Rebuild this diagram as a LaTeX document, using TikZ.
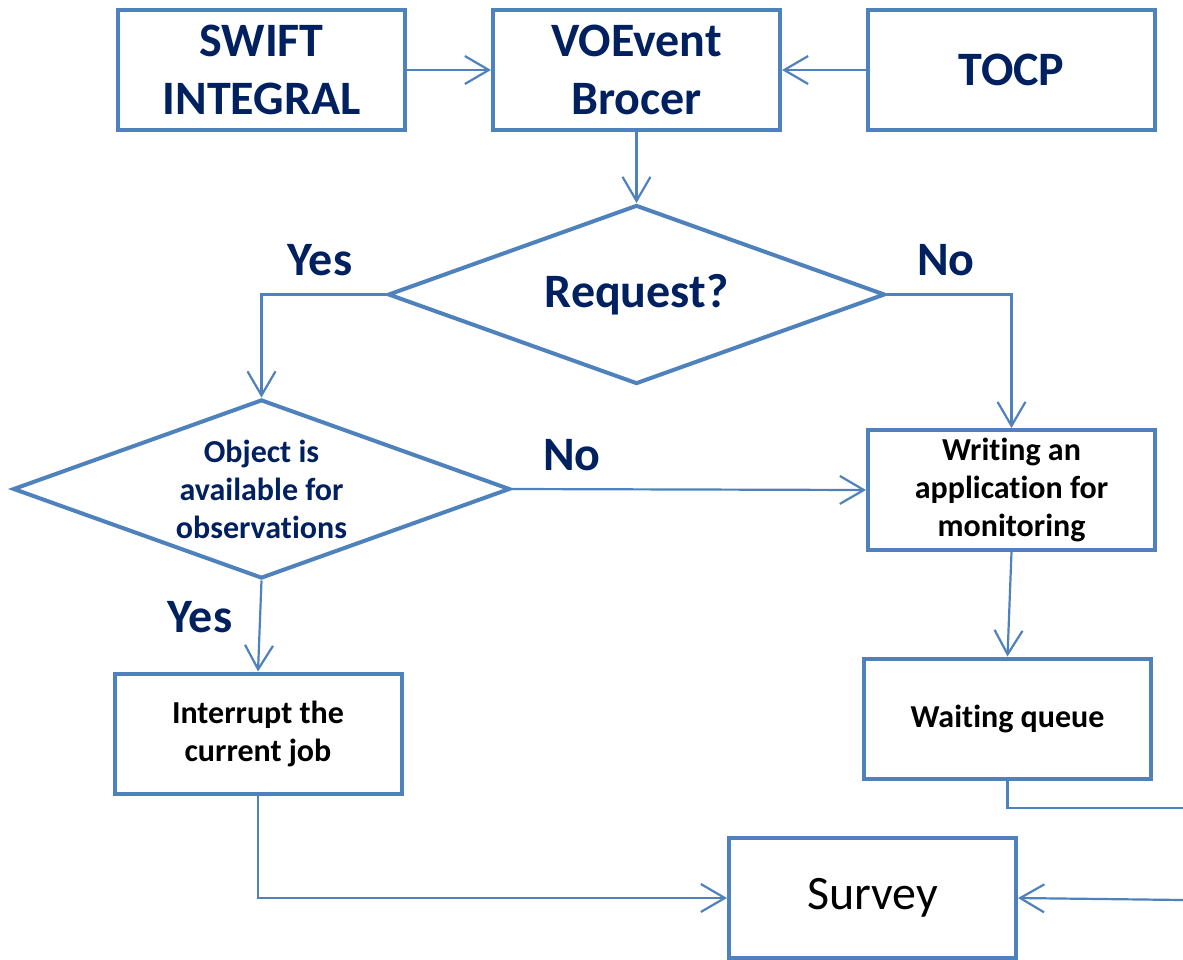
\documentclass[tikz,border=0pt]{standalone}
\usepackage{fontspec}
\setmainfont{Carlito}[Ligatures={NoCommon}]
\usetikzlibrary{shapes.geometric,arrows.meta}
\definecolor{boxblue}{HTML}{4F81BD}
\definecolor{navy}{HTML}{002060}
\tikzset{
  box/.style={draw=boxblue, line width=2pt, rectangle, minimum width=143.5pt, minimum height=60pt, align=center, inner sep=2pt},
  bigtxt/.style={font=\fontsize{24}{29}\selectfont\bfseries, text=navy},
  smalltxt/.style={font=\fontsize{16}{19}\selectfont\bfseries},
  dia/.style={draw=boxblue, line width=2pt, diamond, aspect=2.78, minimum width=248.5pt, minimum height=89.5pt, inner sep=0pt, align=center},
  conn/.style={draw=boxblue, line width=1.1pt, -{Straight Barb[length=12pt,width=14pt]}},
  plain/.style={draw=boxblue, line width=1.1pt},
  lbl/.style={font=\fontsize{24}{29}\selectfont\bfseries, text=navy}
}
\begin{document}
\begin{tikzpicture}[x=0.5pt,y=-0.5pt]
\useasboundingbox (0,0) rectangle (1183,959);
\node[box,bigtxt] (swift) at (261.5,70) {SWIFT\\INTEGRAL};
\node[box,bigtxt] (voe) at (636.5,70) {VOEvent\\Brocer};
\node[box,bigtxt] (tocp) at (1011.5,70) {TOCP};
\node[dia,bigtxt] (req) at (636.5,294.5) {Request?};
\node[dia,smalltxt,text=navy] (obj) at (261.5,489) {Object is\\available for\\observations};
\node[box,smalltxt] (write) at (1011.5,490) {Writing an\\application for\\monitoring};
\node[box,smalltxt] (wait) at (1007.5,718.5) {Waiting queue};
\node[box,smalltxt] (intr) at (258,733.5) {Interrupt the\\current job};
\node[box,font=\fontsize{24}{29}\selectfont] (survey) at (872.5,898) {Survey};
\node[lbl] (yes1) at (320,260) {Yes};
\node[lbl] (no1) at (946,260) {No};
\node[lbl] (no2) at (572,455) {No};
\node[lbl] (yes2) at (200,617) {Yes};
\coordinate (e1) at (1183,808);
\coordinate (e2) at (1183,900);
\draw[conn] (swift.east) -- (voe.west);
\draw[conn] (tocp.west) -- (voe.east);
\draw[conn] (voe.south) -- (req.north);
\draw[conn] (req.west) -| (obj.north);
\draw[conn] (req.east) -| (write.north);
\draw[conn] (obj.east) -- (write.west);
\draw[conn] (obj.south) -- (intr.north);
\draw[conn] (write.south) -- (wait.north);
\draw[plain] (wait.south) |- (e1);
\draw[conn] (e2) -- (survey.east);
\draw[conn] (intr.south) |- (survey.west);
\end{tikzpicture}
\end{document}
